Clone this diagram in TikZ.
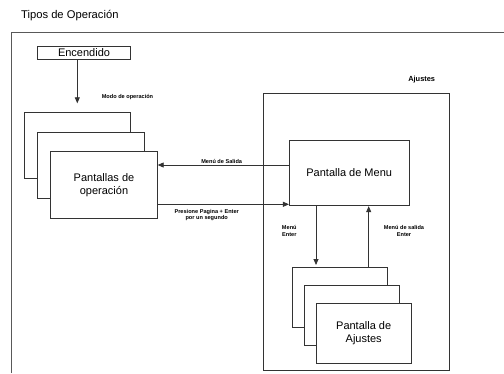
\documentclass[tikz,border=0pt]{standalone}
\usepackage{fontspec}
\setmainfont{Liberation Sans}
\usetikzlibrary{arrows.meta}
\begin{document}
\begin{tikzpicture}[x=1pt,y=-1pt,
  ln/.style={draw=black!80,line width=0.8pt},
  box/.style={ln,fill=white,inner sep=0pt,align=center,font=\fontsize{11}{13.5}\selectfont},
  opbox/.style={box,minimum width=106.5pt,minimum height=66.5pt},
  ajbox/.style={box,minimum width=95.3pt,minimum height=59.3pt},
  arr/.style={ln,-{Triangle[length=6pt,width=5pt]}},
  lbl/.style={font=\fontsize{5.6}{6.2}\selectfont\bfseries,align=center,inner sep=0pt}]
\useasboundingbox (0,0) rectangle (504,373);
\fill[white] (0,0) rectangle (504,373);
% outer frame (clipped at image edge)
\draw[draw=black!65,line width=1.2pt] (11.7,373) -- (11.7,32.7) -- (504,32.7);
\node[anchor=west,inner sep=0pt,font=\fontsize{11.2}{13}\selectfont] (title) at (21,15.5) {Tipos de Operación};
% Encendido
\node[box,minimum width=92.6pt,minimum height=12.6pt] (enc) at (84,53) {Encendido};
\coordinate (encend) at (77.3,103.3);
\draw[arr] (enc.south -| encend) -- (encend);
\node[lbl] (modo) at (127.5,97) {Modo de operación};
% operation stack
\node[opbox] (op1) at (77.3,145.3) {};
\node[opbox] (op2) at (90.8,165.2) {};
\node[opbox] (op3) at (104,185) {Pantallas de\\operación};
% Ajustes frame
\node[ln,inner sep=0pt,minimum width=186pt,minimum height=277.4pt] (ajf) at (356,232) {};
\node[lbl,font=\fontsize{7.4}{9}\selectfont\bfseries] (ajt) at (421.7,80) {Ajustes};
% Menu
\node[box,minimum width=119.7pt,minimum height=65.7pt] (menu) at (349.2,172.9) {Pantalla de Menu};
% Ajustes stack
\node[ajbox] (aj1) at (339.7,297.3) {};
\node[ajbox] (aj2) at (351.7,315.3) {};
\node[ajbox] (aj3) at (363.7,333.3) {Pantalla de\\Ajustes};
% connectors
\draw[arr] (menu.west |- 0,165) -- (op3.east |- 0,165);
\node[lbl] (lsal) at (221.7,161) {Menú de Salida};
\draw[arr] (op3.east |- 0,204.3) -- (menu.west |- 0,204.3);
\node[lbl] (lpres) at (206.7,215) {Presione Pagina + Enter\\por un segundo};
\coordinate (dn) at (316,265);
\draw[arr] (menu.south -| dn) -- (dn);
\node[lbl] (lmen) at (289.3,231) {Menú\\Enter};
\coordinate (up) at (368.7,266.7);
\draw[arr] (up) -- (menu.south -| up);
\node[lbl] (lms) at (404,231) {Menú de salida\\Enter};
\end{tikzpicture}
\end{document}
